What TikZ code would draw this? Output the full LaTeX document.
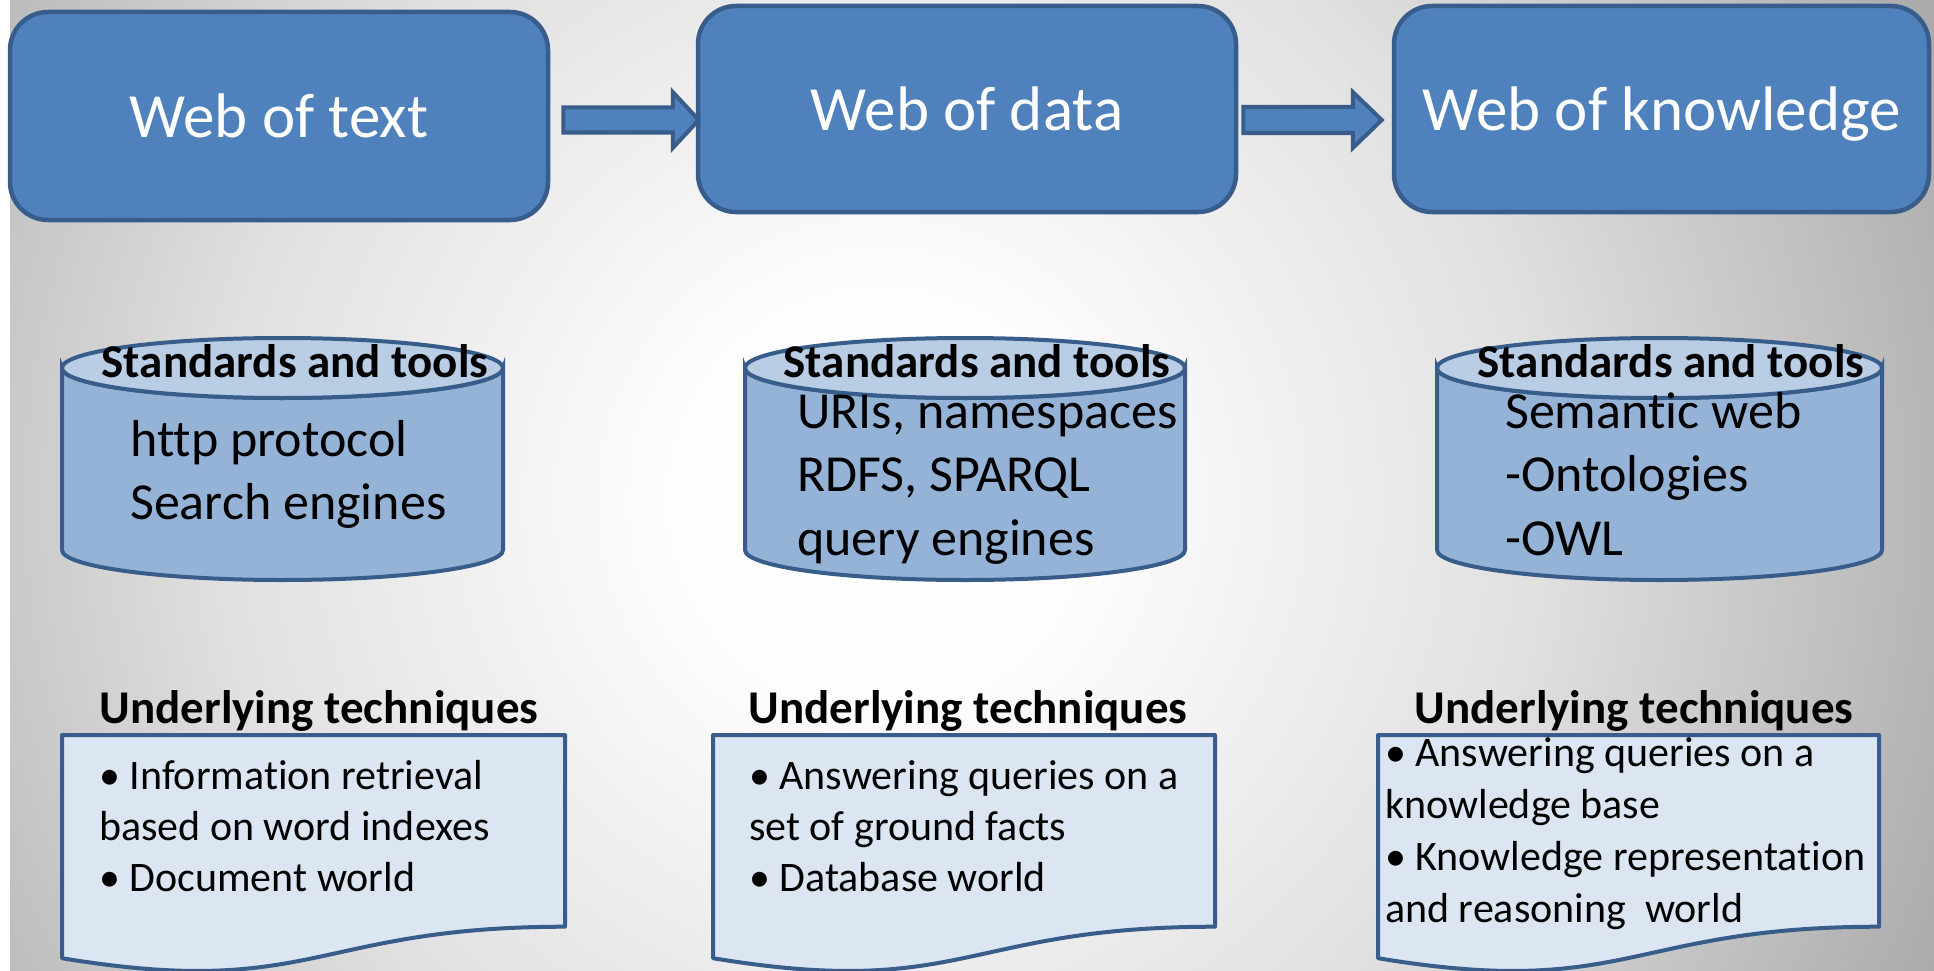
\documentclass[tikz,border=0pt]{standalone}
\usepackage{fontspec}
\setmainfont[Ligatures={NoCommon,NoRare}]{Carlito}
\usetikzlibrary{calc}

\definecolor{boxblue}{HTML}{4F81BD}
\definecolor{edgeblue}{HTML}{385D8A}
\definecolor{canside}{HTML}{95B3D7}
\definecolor{cantop}{HTML}{B9CDE5}
\definecolor{docfill}{HTML}{DCE6F2}

% soft light spot in the middle of a grey page
\pgfdeclareradialshading{bgglow}{\pgfpointorigin}{%
  color(0bp)=(white); color(5bp)=(black!1); color(15bp)=(black!12);
  color(22bp)=(black!25); color(30bp)=(black!40); color(36bp)=(black!43);
  color(45bp)=(black!45); color(72bp)=(black!46)}

\begin{document}
\begin{tikzpicture}[x=1pt, y=1pt, yscale=-1,
  titlebox/.style={draw=edgeblue, line width=4.5pt, fill=boxblue,
    rounded corners=38pt, text=white, font=\fontsize{63}{70}\selectfont,
    text height=44pt, text depth=0pt, inner sep=0pt},
  blockarrow/.style={draw=edgeblue, line width=4pt, fill=boxblue, line join=miter},
  canbody/.style={draw=edgeblue, line width=4pt, fill=canside},
  canface/.style={draw=edgeblue, line width=4pt, fill=cantop},
  docshape/.style={draw=edgeblue, line width=4pt, fill=docfill, line join=round},
  heading/.style={font=\bfseries\fontsize{47}{56}\selectfont, anchor=base, inner sep=0pt},
  canline/.style={font=\fontsize{52}{60}\selectfont, anchor=base west, inner sep=0pt},
  docline/.style={font=\fontsize{42}{50}\selectfont, anchor=base west, inner sep=0pt}]

\useasboundingbox (0,0) rectangle (1934,971);

% page background
\begin{scope}
  \clip (0,0) rectangle (1934,971);
  \shade[shading=bgglow] (-220,-600) rectangle (1980,1600);
\end{scope}
\fill[white] (0,0) rectangle (10,971);

% ---------- top row: the three webs ----------
\node[titlebox, minimum width=538pt, minimum height=208pt] (t1) at (279,116) {Web of text};
\node[titlebox, minimum width=538pt, minimum height=206pt] (t2) at (967,109) {Web of data};
\node[titlebox, minimum width=535pt, minimum height=206pt] (t3) at (1661.5,109) {Web of knowledge};

% block arrows between the webs
\coordinate (a1s) at ($(t1.east)+(13,4)$);
\coordinate (a1e) at ($(t2.west)+(3,11)$);
\coordinate (a2s) at ($(t2.east)+(5,11)$);
\coordinate (a2e) at ($(t3.west)+(-10,11)$);
\draw[blockarrow] ($(a1s)+(0,-12.5)$) -- ($(a1e)+(-26,-12.5)$) -- ($(a1e)+(-26,-28)$)
  -- (a1e) -- ($(a1e)+(-26,28)$) -- ($(a1e)+(-26,12.5)$) -- ($(a1s)+(0,12.5)$) -- cycle;
\draw[blockarrow] ($(a2s)+(0,-13)$) -- ($(a2e)+(-29,-13)$) -- ($(a2e)+(-29,-28)$)
  -- (a2e) -- ($(a2e)+(-29,28)$) -- ($(a2e)+(-29,13)$) -- ($(a2s)+(0,13)$) -- cycle;

% ---------- middle row: standards and tools (cans) ----------
% left and right edges; top-ellipse centre 368, bottom-ellipse centre 550
\foreach \L/\R in {62/503, 745/1185, 1437/1882}{
  \pgfmathsetmacro{\rx}{(\R-\L)/2}
  \pgfmathsetmacro{\cx}{(\R+\L)/2}
  \draw[canbody] (\L,368) -- (\L,550)
    arc[start angle=180, end angle=0, x radius=\rx, y radius=30]
    -- (\R,368)
    arc[start angle=0, end angle=180, x radius=\rx, y radius=30] -- cycle;
  \draw[canface] (\cx,368) ellipse[x radius=\rx, y radius=30];
}

\node[heading] (s1) at (295,377) {Standards and tools};
\node[heading] (s2) at (977,377) {Standards and tools};
\node[heading] (s3) at (1671,377) {Standards and tools};

\node[canline] (c1a) at (130,456) {http protocol};
\node[canline] (c1b) at (130,519) {Search engines};

\node[canline] (c2a) at (797,428) {URIs, namespaces};
\node[canline] (c2b) at (797,491) {RDFS, SPARQL};
\node[canline] (c2c) at (797,555) {query engines};

\node[canline] (c3a) at (1505,428) {Semantic web};
\node[canline] (c3b) at (1505,491) {-Ontologies};
\node[canline] (c3c) at (1505,555) {-OWL};

% ---------- bottom row: underlying techniques (documents) ----------
\foreach \L/\R in {62/565, 713/1215, 1378/1879}{
  \pgfmathsetmacro{\cx}{(\R+\L)/2}
  \draw[docshape] (\L,735) -- (\R,735) -- (\R,926.7)
    .. controls (\cx,926.7) and (\cx,999.7) .. (\L,958.2) -- cycle;
}

\node[heading] (u1) at (319,723) {Underlying techniques};
\node[heading] (u2) at (968,723) {Underlying techniques};
\node[heading] (u3) at (1634,723) {Underlying techniques};

\node[docline] (d1a) at (99,789) {• Information retrieval};
\node[docline] (d1b) at (99,840) {based on word indexes};
\node[docline] (d1c) at (99,891) {• Document world};

\node[docline] (d2a) at (749,789) {• Answering queries on a};
\node[docline] (d2b) at (749,840) {set of ground facts};
\node[docline] (d2c) at (749,891) {• Database world};

\node[docline] (d3a) at (1385,766) {• Answering queries on a};
\node[docline] (d3b) at (1385,818) {knowledge base};
\node[docline] (d3c) at (1385,870) {• Knowledge representation};
\node[docline] (d3d) at (1385,922) {and reasoning~ world};

\end{tikzpicture}
\end{document}
